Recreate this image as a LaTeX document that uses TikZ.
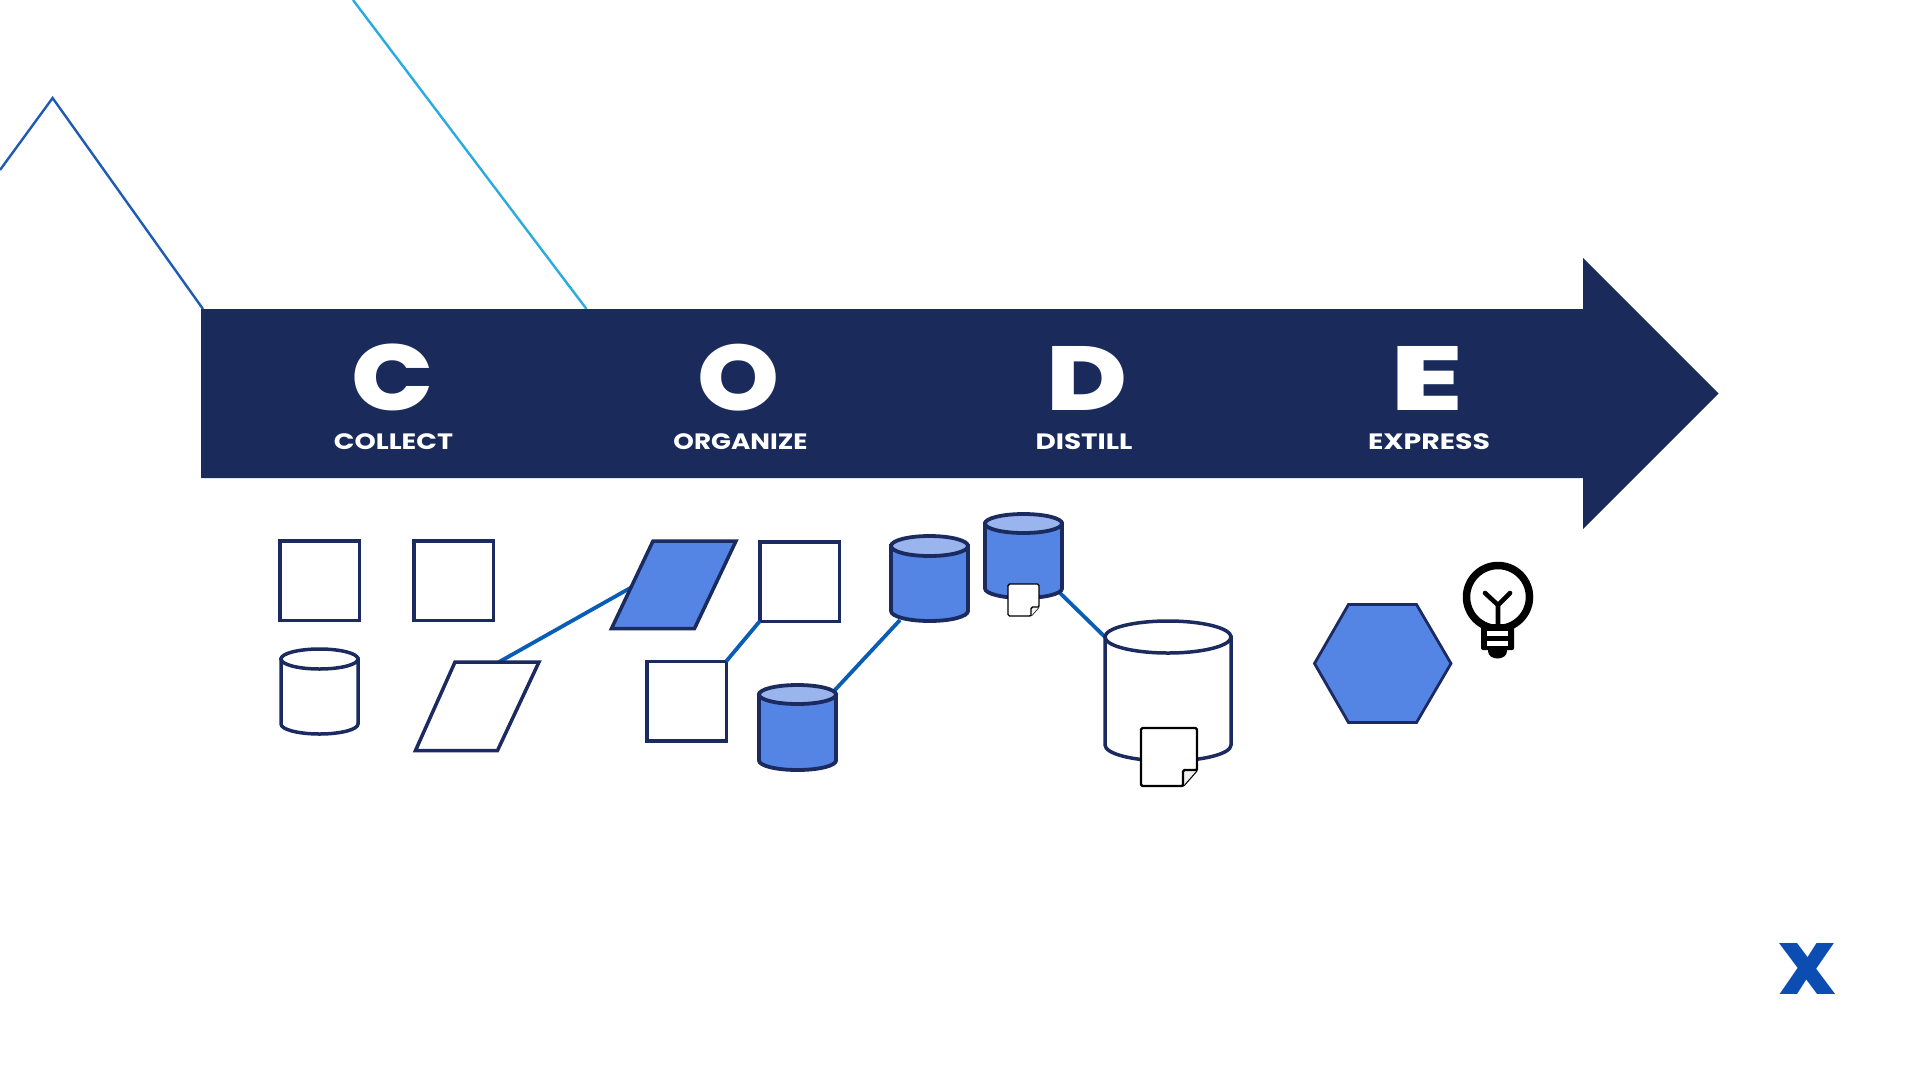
\documentclass[tikz,border=0pt]{standalone}
\usepackage{fontspec}
\setmainfont{Poppins}
\newfontfamily\heavy{Poppins}[UprightFont=*,BoldFont=* ExtraBold]
\definecolor{navy}{HTML}{192A5B}
\definecolor{edge}{HTML}{1B2B60}
\definecolor{blueA}{HTML}{5484E4}
\definecolor{blueB}{HTML}{9AB5EE}
\definecolor{link}{HTML}{0A5DB5}
\definecolor{peakA}{HTML}{1F5BB5}
\definecolor{peakB}{HTML}{29ABE2}
\definecolor{logo}{HTML}{0B4DB0}
\tikzset{
  x=1pt,y=-1pt,
  shapeline/.style={draw=edge,line width=3.5pt,line join=miter},
  sq/.style={shapeline,rectangle,fill=white,minimum width=79.5pt,minimum height=79.5pt,inner sep=0pt,outer sep=0pt},
  linkline/.style={draw=link,line width=3.8pt},
  lettr/.style={inner sep=0pt,outer sep=0pt,text=white},
}
\newcommand{\fitbox}[3]{\resizebox*{#1pt}{#2pt}{#3}}
% name, xl, xr, ytop, yellbot, ybot, body, top, width
\newcommand{\cyl}[9]{%
  \pgfmathsetmacro{\rx}{(#3-#2)/2}%
  \pgfmathsetmacro{\ry}{(#5-#4)/2}%
  \pgfmathsetmacro{\cx}{(#3+#2)/2}%
  \pgfmathsetmacro{\cy}{(#5+#4)/2}%
  \pgfmathsetmacro{\ys}{#6-\ry}%
  \draw[draw=edge,line width=#9pt,fill=#7] (#2,\cy) -- (#2,\ys) arc[start angle=180,end angle=360,x radius=\rx pt,y radius=\ry pt] -- (#3,\cy) -- cycle;
  \draw[draw=edge,line width=#9pt,fill=#8] (\cx,\cy) ellipse[x radius=\rx pt,y radius=\ry pt];
  \coordinate (#1) at (\cx,\cy);
}
% left right top bottom foldx foldy width
\newcommand{\docu}[7]{%
  \draw[black,line width=#7pt,fill=white,rounded corners=1.5pt,line join=round] (#1,#3) -- (#2,#3) -- (#2,#6) -- (#5,#4) -- (#1,#4) -- cycle;
  \draw[black,line width=#7pt,fill=white!94!black,line join=round,rounded corners=1.5pt] (#5,#4) -- (#5,#6) -- (#2,#6);
}
\begin{document}
\begin{tikzpicture}
\useasboundingbox (0,0) rectangle (1920,1080);
\fill[white] (0,0) rectangle (1920,1080);
% peaks
\coordinate (pa) at (0,170);
\coordinate (pb) at (52.6,98);
\coordinate (pc) at (203,309);
\coordinate (qa) at (353,0);
\coordinate (qb) at (586.5,309);
\draw[peakA,line width=2.4pt] (pa) -- (pb) -- (pc);
\draw[peakB,line width=2.4pt] (qa) -- (qb);
% arrow
\fill[navy] (201,309) -- (1583,309) -- (1583,258) -- (1718.5,393.5) -- (1583,529) -- (1583,478) -- (201,478) -- cycle;
% letters
\node[lettr] (lC) at (393,377.5) {\fitbox{82}{67}{\heavy\bfseries C}};
\node[lettr] (lO) at (739,377.5) {\fitbox{82}{67}{\heavy\bfseries O}};
\node[lettr] (lD) at (1087,378) {\fitbox{81}{64}{\heavy\bfseries D}};
\node[lettr] (lE) at (1427,378) {\fitbox{73}{64}{\heavy\bfseries E}};
\node[lettr] (tC) at (393.5,441.5) {\fitbox{119}{16}{\bfseries COLLECT}};
\node[lettr] (tO) at (740.5,441.5) {\fitbox{134}{16}{\bfseries ORGANIZE}};
\node[lettr] (tD) at (1084,441.5) {\fitbox{97}{16}{\bfseries DISTILL}};
\node[lettr] (tE) at (1429,441.5) {\fitbox{122}{16}{\bfseries EXPRESS}};
% connectors
\node[sq] (s1) at (319.5,580.5) {};
\node[sq] (s2) at (453.5,580.5) {};
\node[sq] (s3) at (799.5,581.5) {};
\node[sq] (s4) at (686.5,701) {};
\coordinate (k1a) at (499,662);
\coordinate (k1b) at (632,587);
\coordinate (k3a) at (834,691);
\coordinate (k3b) at (900,620);
\coordinate (k4a) at (1060,593);
\coordinate (k4b) at (1105,637);
\draw[linkline] (k1a) -- (k1b);
\draw[linkline] (s3.south west) -- (s4.north east);
\draw[linkline] (k3a) -- (k3b);
\draw[linkline] (k4a) -- (k4b);
% parallelograms
\draw[shapeline,fill=white] (455,662) -- (539,662) -- (497.5,750.5) -- (415.5,750.5) -- cycle;
\draw[shapeline,fill=blueA] (653,541) -- (736,541) -- (694.5,628.5) -- (611.5,628.5) -- cycle;
% cylinders
\cyl{c1}{281}{358}{649}{669}{734}{white}{white}{3.5}
\cyl{c2}{759}{836}{685}{704}{770}{blueA}{blueB}{3.8}
\cyl{c3}{891}{968}{536}{556}{621}{blueA}{blueB}{3.8}
\cyl{c4}{985}{1062}{514}{533}{598}{blueA}{blueB}{3.8}
\cyl{c5}{1105}{1231}{621}{653}{761}{white}{white}{3.5}
% documents
\docu{1008}{1039}{584}{616}{1031}{607}{1.4}
\docu{1141}{1197}{728}{786}{1183}{770}{2.4}
% hexagon
\draw[draw=edge,line width=2.8pt,fill=blueA,line join=miter] (1348.5,604.5) -- (1416.5,604.5) -- (1451,663.5) -- (1416.5,722.5) -- (1348.5,722.5) -- (1314.5,663.5) -- cycle;
% bulb
\draw[black,line width=7.5pt] (1498,597) circle[radius=31.5pt];
\fill[black,rounded corners=2pt] (1481,624) rectangle (1514,650);
\fill[black] (1488,648) -- (1507,648) -- (1507,651) .. controls (1507,656) and (1502,658.5) .. (1497.5,658.5) .. controls (1493,658.5) and (1488,656) .. (1488,651) -- cycle;
\fill[white] (1487,630.5) rectangle (1508,635.5);
\fill[white] (1487,640.5) rectangle (1508,645.5);
\draw[black,line width=4.6pt,line cap=round,line join=round] (1498,626) -- (1498,605) (1485,593) -- (1498,605) -- (1510,593);
% logo
\node[inner sep=0pt,outer sep=0pt,text=logo] (lg) at (1807,968.5) {\fitbox{58}{51}{\heavy\bfseries X}};
\end{tikzpicture}
\end{document}
